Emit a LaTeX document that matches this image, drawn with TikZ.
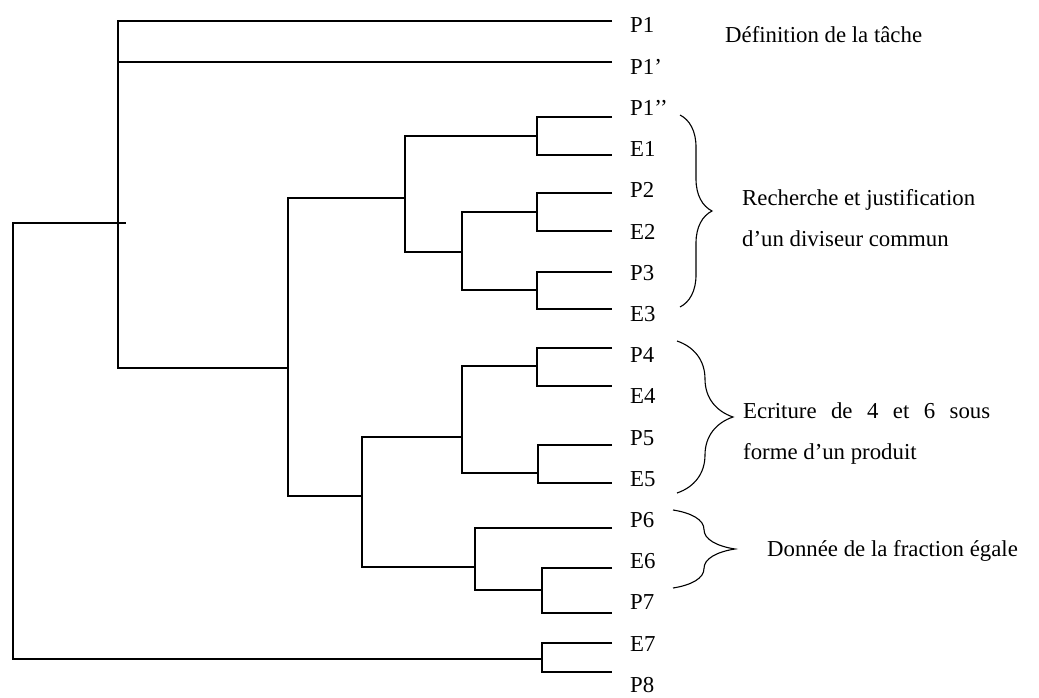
\documentclass[tikz,border=0pt]{standalone}
\usepackage{fontspec}
\setmainfont{Liberation Serif}
\usetikzlibrary{decorations.pathreplacing}

\tikzset{
  leaf/.style={anchor=base west, inner sep=0pt},
  lbl/.style={anchor=north west, inner sep=0pt, align=left},
  tree/.style={line width=1.2pt},
  bracket/.style={line width=1.1pt, decorate, decoration={brace, amplitude=#1}}
}

\begin{document}
\begin{tikzpicture}[x=1pt, y=-1pt, font=\fontsize{22.8}{41.5}\selectfont]

% Frame
\useasboundingbox (0,0) rectangle (1039,698);

% Leaves: name / text / y of the branch
\foreach \n/\t/\y [count=\i from 0] in {
P1/P1/21,
P1a/P1’/62,
P1b/P1’’/117,
E1/E1/155,
P2/P2/193,
E2/E2/231,
P3/P3/272,
E3/E3/309,
P4/P4/348,
E4/E4/386,
P5/P5/445,
E5/E5/483,
P6/P6/528,
E6/E6/568,
P7/P7/613,
E7/E7/643,
P8/P8/672
}{
\node[leaf] (\n) at (630,{33+41.2*\i}) {\t};
\coordinate (\n-end) at (612,\y);
}

% Junctions
\coordinate (root) at (13,400);
\coordinate (a) at (118,223);
\coordinate (b) at (288,368);
\coordinate (c) at (405,198);
\coordinate (c1) at (537,136);
\coordinate (d) at (462,252);
\coordinate (d1) at (537,212);
\coordinate (d2) at (537,290);
\coordinate (g) at (362,496);
\coordinate (h) at (462,437);
\coordinate (h1) at (537,366);
\coordinate (h2) at (538,473);
\coordinate (k) at (475,567);
\coordinate (k1) at (542,590);
\coordinate (l) at (542,659);

% Dendrogram
\draw[tree] (a) -| (root) |- (l);
\draw[tree] (a) -- ++(8,0);
\draw[tree] (P1-end) -| (a) |- (b);
\draw[tree] (P1a-end) -| (a);
\draw[tree] (c) -| (b) |- (g);
\draw[tree] (c1) -| (c) |- (d);
\draw[tree] (P1b-end) -| (c1) |- (E1-end);
\draw[tree] (d1) -| (d) |- (d2);
\draw[tree] (P2-end) -| (d1) |- (E2-end);
\draw[tree] (P3-end) -| (d2) |- (E3-end);
\draw[tree] (h) -| (g) |- (k);
\draw[tree] (h1) -| (h) |- (h2);
\draw[tree] (P4-end) -| (h1) |- (E4-end);
\draw[tree] (P5-end) -| (h2) |- (E5-end);
\draw[tree] (P6-end) -| (k) |- (k1);
\draw[tree] (E6-end) -| (k1) |- (P7-end);
\draw[tree] (E7-end) -| (l) |- (P8-end);

% Braces
\draw[bracket=32pt] (680,115) -- (680,307);
\draw[bracket=56pt] (677,341) -- (677,493);
\draw[bracket=62pt] (673,510) -- (673,588);

% Phase labels
\node[leaf] (def) at (725,43) {Définition de la tâche};
\node[lbl] (rech) at (742,189) {Recherche et justification\\d’un diviseur commun};
\node[lbl] (ecr) at (743,402) {\makebox[247pt][s]{Ecriture de 4 et 6 sous}\\forme d’un produit};
\node[leaf] (don) at (767,556) {Donnée de la fraction égale};

\end{tikzpicture}
\end{document}
